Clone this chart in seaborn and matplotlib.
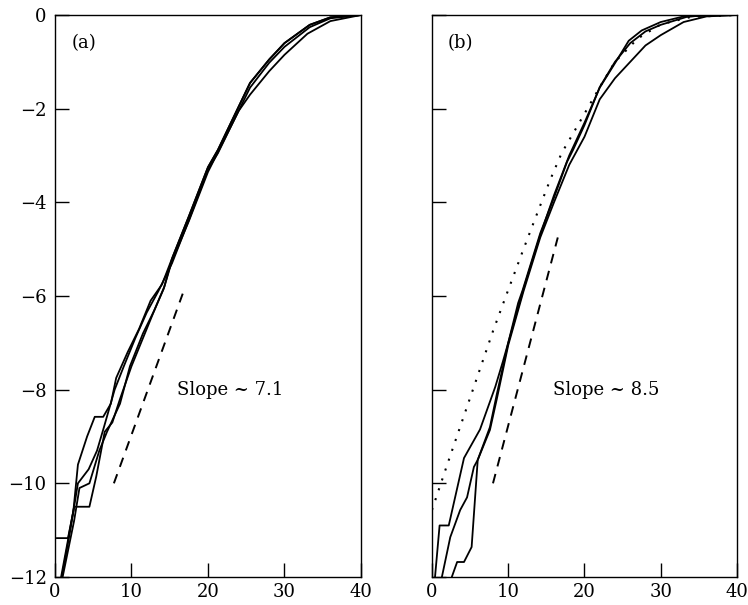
import matplotlib as mpl
import matplotlib.pyplot as plt
import seaborn as sns
import pandas as pd

sns.set_style("ticks")
mpl.rcParams['font.family'] = ['DejaVu Serif']
mpl.rcParams['font.size'] = 13
mpl.rcParams['text.color'] = 'black'
mpl.rcParams['axes.unicode_minus'] = True

# ---- panel (a): measured curves (x, y) ----
a_upper_main = [(15.3, -5.2), (17.5, -4.3), (20, -3.25), (21.3, -2.88), (23, -2.3),
                (25.5, -1.45), (28, -0.95), (30, -0.6), (33.3, -0.21), (36, -0.05), (40, 0)]
a_upper_mid = [(15.3, -5.3), (17.5, -4.38), (20, -3.3), (21.3, -2.95), (23, -2.38),
               (25.5, -1.55), (28, -1.02), (30, -0.68), (33.3, -0.26), (36, -0.07), (40, 0)]
a_upper_low = [(15.3, -5.25), (17.5, -4.4), (20, -3.35), (22, -2.7), (24, -2.05),
               (25.5, -1.7), (28, -1.2), (30, -0.85), (33, -0.4), (36, -0.13), (40, 0)]

a1_x = [0.2, 1.7, 2.4, 3.0, 4.2, 5.2, 6.3, 7.3, 8.0, 9.5, 11.0, 12.5, 14.0]
a1_y = [-11.17, -11.17, -10.6, -9.6, -9.0, -8.58, -8.58, -8.3, -7.75, -7.2, -6.7, -6.1, -5.75]
a2_x = [0.8, 1.6, 2.5, 4.5, 5.4, 6.5, 7.5, 8.5, 10.0, 11.5, 13.0, 14.2]
a2_y = [-12.0, -11.3, -10.5, -10.5, -9.85, -8.9, -8.7, -8.2, -7.5, -6.9, -6.3, -5.85]
a3_x = [0.9, 2.0, 3.0, 4.4, 5.5, 6.4, 7.8, 9.0, 10.5, 12.0, 13.5]
a3_y = [-12.0, -11.0, -10.0, -9.7, -9.3, -8.8, -8.0, -7.5, -6.9, -6.35, -5.9]
a4_x = [1.0, 2.5, 3.2, 4.5, 5.8, 6.8, 8.5, 9.8, 11.5, 13.0, 14.3]
a4_y = [-12.0, -10.8, -10.1, -10.0, -9.3, -8.9, -8.3, -7.5, -6.8, -6.3, -5.8]

a_slope_x = [7.7, 16.7]
a_slope_y = [-10.0, -5.95]

# ---- panel (b) ----
b_main = [(10.0, -7.0), (11.3, -6.15), (11.9, -5.87), (14.2, -4.66), (16, -3.9),
          (17.7, -3.14), (18.5, -2.88), (20, -2.35), (22, -1.54), (24, -1.0),
          (26, -0.6), (28, -0.35), (30, -0.21), (33.4, -0.04), (36, 0), (40, 0)]
b_low = [(10.0, -7.05), (12, -5.9), (14.2, -4.75), (16, -4.0), (18, -3.2), (20, -2.6),
         (22, -1.8), (24, -1.35), (26, -1.0), (28, -0.65), (30, -0.43), (33, -0.15),
         (36, -0.03), (40, 0)]
b_kink = [(10.0, -7.0), (12, -5.85), (14.2, -4.7), (16, -3.85), (18, -3.0), (20, -2.3),
          (22, -1.55), (24.3, -0.95), (25.8, -0.55), (27.5, -0.33), (30, -0.15),
          (33, -0.03), (40, 0)]

b1_x = [0.4, 1.0, 2.2, 4.2, 6.3, 8.3, 9.3]
b1_y = [-12.0, -10.9, -10.9, -9.46, -8.85, -7.94, -7.4]
b2_x = [1.3, 2.4, 3.7, 4.6, 5.5, 6.0, 7.6, 8.5]
b2_y = [-12.0, -11.15, -10.57, -10.3, -9.65, -9.5, -8.86, -8.2]
b3_x = [2.6, 3.3, 4.2, 5.2, 6.0, 7.6, 8.5]
b3_y = [-12.0, -11.68, -11.68, -11.36, -9.5, -8.8, -8.1]

b_dot_x = [0, 2, 4, 6, 8, 10, 12, 14, 15.5, 17, 19, 22, 24, 27, 30, 34, 40]
b_dot_y = [-10.57, -9.6, -8.65, -7.7, -6.75, -5.87, -5.0, -4.15, -3.52, -2.95,
           -2.39, -1.54, -1.0, -0.5, -0.2, -0.04, 0]

b_slope_x = [8.0, 16.5]
b_slope_y = [-10.0, -4.75]

xticks = [0, 10, 20, 30, 40]
yticks = [0, -2, -4, -6, -8, -10, -12]


def join(xs, ys, tail):
    pts = list(zip(xs, ys)) + tail
    return [p[0] for p in pts], [p[1] for p in pts]


def frame(curves):
    rows = []
    for i, (xs, ys) in enumerate(curves):
        for x, y in zip(xs, ys):
            rows.append({'x': x, 'y': y, 'curve': i})
    return pd.DataFrame(rows)


df_a = frame([join(a1_x, a1_y, a_upper_main), join(a2_x, a2_y, a_upper_low),
              join(a3_x, a3_y, a_upper_mid), join(a4_x, a4_y, a_upper_main)])
df_b = frame([join(b1_x, b1_y, b_main), join(b2_x, b2_y, b_low),
              join(b3_x, b3_y, b_kink)])

fig = plt.figure(figsize=(7.48, 6.05), dpi=100)
ax_a = fig.add_axes([0.0735, 0.0463, 0.4091, 0.9289])
ax_b = fig.add_axes([0.5775, 0.0463, 0.4078, 0.9289])

for ax, df in [(ax_a, df_a), (ax_b, df_b)]:
    sns.lineplot(data=df, x='x', y='y', units='curve', estimator=None, sort=False,
                 color='black', linewidth=1.3, ax=ax)

sns.lineplot(x=a_slope_x, y=a_slope_y, color='black', linewidth=1.4,
             linestyle=(0, (5, 4)), ax=ax_a)
sns.lineplot(x=b_slope_x, y=b_slope_y, color='black', linewidth=1.4,
             linestyle=(0, (5, 4)), ax=ax_b)
sns.lineplot(x=b_dot_x, y=b_dot_y, color='black', linewidth=1.5,
             linestyle=(0, (1, 4)), sort=False, ax=ax_b)

ax_a.text(2.2, -0.6, '(a)', va='center', ha='left', color='black')
ax_b.text(2.1, -0.6, '(b)', va='center', ha='left', color='black')
ax_a.text(16.0, -8.0, 'Slope ~ 7.1', va='center', ha='left', color='black')
ax_b.text(15.9, -8.0, 'Slope ~ 8.5', va='center', ha='left', color='black')

for ax in (ax_a, ax_b):
    ax.set_xlim(0, 40)
    ax.set_ylim(-12, 0)
    ax.set_xticks(xticks)
    ax.set_yticks(yticks)
    ax.set_xlabel('')
    ax.set_ylabel('')
    ax.tick_params(direction='in', length=10, width=1.0, colors='black',
                   labelcolor='black', labelsize=13, pad=4)
    ax.tick_params(axis='y', pad=6)
    for s in ax.spines.values():
        s.set_visible(True)
        s.set_color('black')
        s.set_linewidth(1.0)

ax_b.set_yticklabels([])

fig.savefig('out.png', dpi=100)
